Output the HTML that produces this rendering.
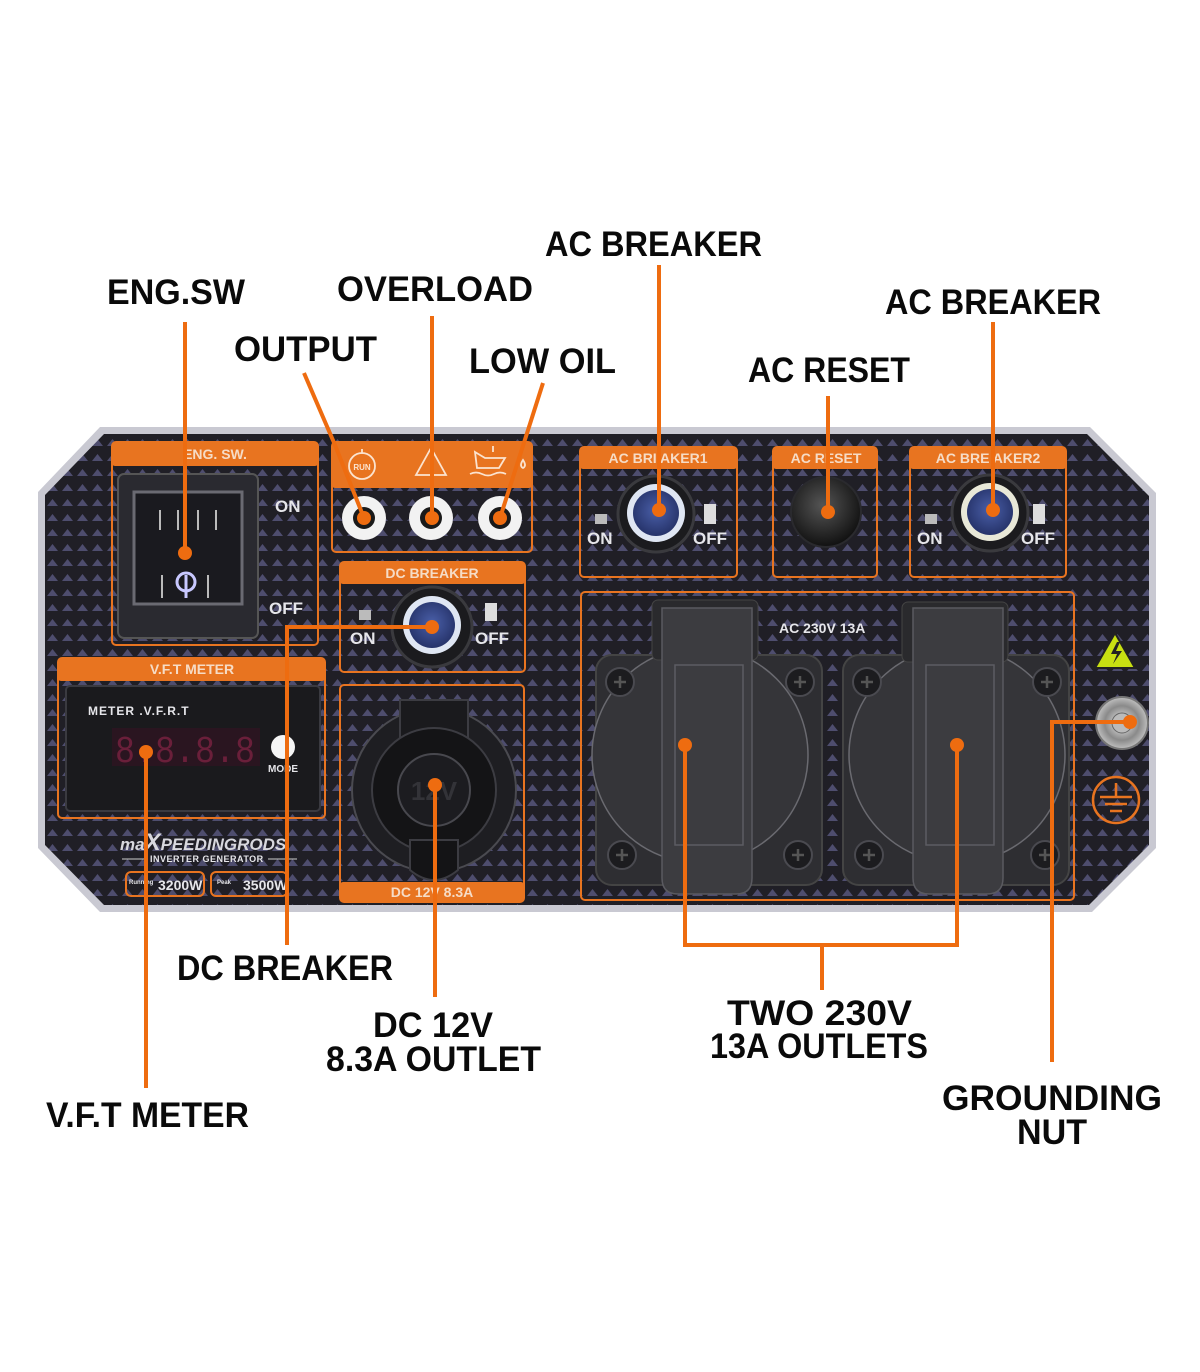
<!DOCTYPE html>
<html><head><meta charset="utf-8"><style>
html,body{margin:0;padding:0;background:#fff;}
svg{display:block;}
.lbl{font-family:"Liberation Sans",sans-serif;font-weight:bold;font-size:35px;fill:#0a0a0a;}
.hd{font-family:"Liberation Sans",sans-serif;font-weight:bold;font-size:14px;fill:#f6dcc6;text-anchor:middle;}
.wt{font-family:"Liberation Sans",sans-serif;font-weight:bold;fill:#e6e6ea;}
</style></head><body>
<svg width="1200" height="1372" viewBox="0 0 1200 1372" xmlns="http://www.w3.org/2000/svg">
<defs>
<pattern id="tri" width="15" height="15" patternUnits="userSpaceOnUse">
<rect width="15" height="15" fill="#201f26"/>
<polygon points="2,11 7.5,4 13,11" fill="#4e4d6e"/>
</pattern>
<radialGradient id="blue" cx="50%" cy="45%" r="55%"><stop offset="0" stop-color="#4a5fa8"/><stop offset="1" stop-color="#26336a"/></radialGradient>
<radialGradient id="blk" cx="45%" cy="40%" r="60%"><stop offset="0" stop-color="#555"/><stop offset="1" stop-color="#111"/></radialGradient>
<radialGradient id="nut" cx="50%" cy="50%" r="55%"><stop offset="0" stop-color="#f0f0f0"/><stop offset="0.6" stop-color="#8a8a8a"/><stop offset="1" stop-color="#cfcfcf"/></radialGradient>
<g id="screw"><circle r="14" fill="#1c1c1f" stroke="#4a4a50" stroke-width="2"/><path d="M-6,0 h12 M0,-6 v12" stroke="#555" stroke-width="2.5"/></g>
</defs>
<rect width="1200" height="1372" fill="#fff"/>
<polygon points="100,427 1090,427 1156,493 1156,848 1092,912 100,912 38,848 38,492" fill="#c9c9d2"/>
<polygon points="104,434 1087,434 1149,496 1149,845 1089,905 104,905 45,845 45,495" fill="url(#tri)"/>

<!-- ENG SW box -->
<rect x="112" y="442" width="206" height="203" rx="4" fill="none" stroke="#e87420" stroke-width="2"/>
<rect x="112" y="442" width="206" height="24" rx="3" fill="#e87420"/>
<text class="hd" x="215" y="459">ENG. SW.</text>
<rect x="118" y="474" width="140" height="164" rx="6" fill="#2a2a30" stroke="#555" stroke-width="2"/>
<rect x="134" y="492" width="108" height="112" fill="#1a1a1f" stroke="#6a6a72" stroke-width="3"/>
<g stroke="#bbb" stroke-width="2"><line x1="160" y1="510" x2="160" y2="530"/><line x1="178" y1="510" x2="178" y2="530"/><line x1="198" y1="510" x2="198" y2="530"/><line x1="216" y1="510" x2="216" y2="530"/><line x1="162" y1="575" x2="162" y2="598"/><line x1="208" y1="575" x2="208" y2="598"/></g>
<circle cx="186" cy="582" r="9" fill="none" stroke="#c8c8ff" stroke-width="3"/><line x1="186" y1="575" x2="186" y2="598" stroke="#c8c8ff" stroke-width="3"/>
<text class="wt" x="275" y="512" font-size="17">ON</text>
<text class="wt" x="269" y="614" font-size="17">OFF</text>

<!-- lights box -->
<rect x="332" y="442" width="200" height="110" rx="4" fill="none" stroke="#e87420" stroke-width="2"/>
<rect x="332" y="442" width="200" height="46" rx="3" fill="#e87420"/>
<g fill="none" stroke="#fbe3cf" stroke-width="1.8">
<circle cx="362" cy="466" r="13"/><line x1="362" y1="449" x2="362" y2="454"/>
<polygon points="431,448 416,475 446,475"/>
<path d="M475,452 l10,6 h20 l-6,10 h-22 z M493,452 v-6 M470,474 q6,-3 12,0 t12,0 t12,0 M523,460 q-4,6 0,8 q4,-2 0,-8z"/>
</g>
<text x="362" y="470" font-family="Liberation Sans,sans-serif" font-size="8" font-weight="bold" fill="#fbe3cf" text-anchor="middle">RUN</text>
<g><circle cx="364" cy="518" r="22" fill="#f2f2f2"/><circle cx="364" cy="518" r="11" fill="#1a1a1a"/>
<circle cx="431" cy="518" r="22" fill="#f2f2f2"/><circle cx="431" cy="518" r="11" fill="#1a1a1a"/>
<circle cx="500" cy="518" r="22" fill="#f2f2f2"/><circle cx="500" cy="518" r="11" fill="#1a1a1a"/></g>

<!-- DC breaker box -->
<rect x="340" y="562" width="185" height="110" rx="4" fill="none" stroke="#e87420" stroke-width="2"/>
<rect x="340" y="562" width="185" height="22" rx="3" fill="#e87420"/>
<text class="hd" x="432" y="578">DC BREAKER</text>
<circle cx="432" cy="627" r="40" fill="#1b1b1e" stroke="#3a3a3e" stroke-width="3"/>
<circle cx="432" cy="625" r="29" fill="#dfe6f3"/><circle cx="432" cy="625" r="23" fill="url(#blue)"/>
<rect x="359" y="610" width="12" height="10" fill="#bbb"/><rect x="485" y="603" width="12" height="18" fill="#ddd"/>
<text class="wt" x="350" y="644" font-size="17">ON</text>
<text class="wt" x="475" y="644" font-size="17">OFF</text>

<!-- VFT meter -->
<rect x="58" y="658" width="267" height="160" rx="4" fill="none" stroke="#e87420" stroke-width="2"/>
<rect x="58" y="658" width="267" height="23" rx="3" fill="#e87420"/>
<text class="hd" x="192" y="674">V.F.T METER</text>
<rect x="66" y="686" width="254" height="125" rx="4" fill="#1a1a1d" stroke="#3a3a40" stroke-width="2"/>
<text class="wt" x="88" y="715" font-size="12" letter-spacing="1">METER .V.F.R.T</text>
<rect x="112" y="728" width="148" height="38" fill="#2a1520"/>
<text x="115" y="762" font-family="Liberation Mono,monospace" font-size="38" fill="#6a1f3a" textLength="140" lengthAdjust="spacingAndGlyphs">8.8.8.8</text>
<circle cx="283" cy="747" r="12" fill="#f5f5f5"/>
<text class="wt" x="268" y="772" font-size="10">MODE</text>
<text x="120" y="850" font-family="Liberation Sans,sans-serif" font-style="italic" font-weight="bold" font-size="17" fill="#d8d8de">ma<tspan font-size="24">X</tspan>PEEDINGRODS</text>
<text class="wt" x="150" y="862" font-size="9" letter-spacing="0.5">INVERTER GENERATOR</text>
<line x1="122" y1="859" x2="148" y2="859" stroke="#ccc"/><line x1="268" y1="859" x2="297" y2="859" stroke="#ccc"/>
<rect x="126" y="872" width="78" height="24" rx="5" fill="none" stroke="#e87420" stroke-width="2"/>
<rect x="211" y="872" width="76" height="24" rx="5" fill="none" stroke="#e87420" stroke-width="2"/>
<text class="wt" x="158" y="890" font-size="14">3200W</text>
<text class="wt" x="243" y="890" font-size="14">3500W</text>
<text class="wt" x="129" y="884" font-size="6">Running</text><text class="wt" x="217" y="884" font-size="6">Peak</text>

<!-- DC outlet -->
<rect x="340" y="685" width="184" height="217" rx="4" fill="none" stroke="#e87420" stroke-width="2"/>
<rect x="340" y="882" width="184" height="20" rx="3" fill="#e87420"/>
<text class="hd" x="432" y="897">DC 12V 8.3A</text>
<circle cx="434" cy="790" r="82" fill="#1e1e22" stroke="#4a4a50" stroke-width="2"/>
<path d="M400,700 h68 v50 h-68z" fill="#1a1a1d" stroke="#3c3c42" stroke-width="2"/>
<circle cx="434" cy="790" r="62" fill="#141416" stroke="#3c3c42" stroke-width="2"/>
<path d="M410,840 h48 v30 q-24,20 -48,0z" fill="#141416" stroke="#3c3c42" stroke-width="2"/>
<circle cx="434" cy="790" r="36" fill="#1c1c20" stroke="#48484e" stroke-width="2"/>
<text x="434" y="800" font-family="Liberation Sans,sans-serif" font-weight="bold" font-size="26" fill="#333338" text-anchor="middle">12V</text>

<!-- AC breakers -->
<g>
<rect x="580" y="447" width="157" height="130" rx="4" fill="none" stroke="#e87420" stroke-width="2"/>
<rect x="580" y="447" width="157" height="22" rx="3" fill="#e87420"/>
<text class="hd" x="658" y="463">AC BRI AKER1</text>
<circle cx="656" cy="514" r="38" fill="#1b1b1e" stroke="#3a3a3e" stroke-width="3"/>
<circle cx="656" cy="513" r="29" fill="#dfe6f3"/><circle cx="656" cy="513" r="23" fill="url(#blue)"/>
<rect x="595" y="514" width="12" height="10" fill="#bbb"/><rect x="704" y="504" width="12" height="20" fill="#ddd"/>
<text class="wt" x="587" y="544" font-size="17">ON</text><text class="wt" x="693" y="544" font-size="17">OFF</text>

<rect x="773" y="447" width="104" height="130" rx="4" fill="none" stroke="#e87420" stroke-width="2"/>
<rect x="773" y="447" width="104" height="22" rx="3" fill="#e87420"/>
<text class="hd" x="826" y="463">AC RESET</text>
<circle cx="826" cy="512" r="35" fill="url(#blk)" stroke="#2a2a2e" stroke-width="2"/>

<rect x="910" y="447" width="156" height="130" rx="4" fill="none" stroke="#e87420" stroke-width="2"/>
<rect x="910" y="447" width="156" height="22" rx="3" fill="#e87420"/>
<text class="hd" x="988" y="463">AC BRE AKER2</text>
<circle cx="990" cy="513" r="38" fill="#1b1b1e" stroke="#3a3a3e" stroke-width="3"/>
<circle cx="990" cy="512" r="29" fill="#e8e8d8"/><circle cx="990" cy="512" r="23" fill="url(#blue)"/>
<rect x="925" y="514" width="12" height="10" fill="#bbb"/><rect x="1033" y="504" width="12" height="20" fill="#ddd"/>
<text class="wt" x="917" y="544" font-size="17">ON</text><text class="wt" x="1021" y="544" font-size="17">OFF</text>
</g>

<!-- AC outlets -->
<rect x="581" y="592" width="493" height="308" rx="4" fill="none" stroke="#e87420" stroke-width="2"/>
<text class="wt" x="779" y="633" font-size="14">AC 230V 13A</text>
<g>
<rect x="596" y="655" width="226" height="230" rx="16" fill="#2e2e32" stroke="#444" stroke-width="2"/>
<circle cx="700" cy="755" r="108" fill="#353539" stroke="#6a6a70" stroke-width="1.5"/>
<use href="#screw" x="620" y="682"/><use href="#screw" x="800" y="682"/>
<use href="#screw" x="622" y="855"/><use href="#screw" x="798" y="855"/>
<rect x="652" y="600" width="106" height="60" rx="6" fill="#2a2a2d" stroke="#444"/>
<path d="M662,608 h90 v270 q0,16 -16,16 h-58 q-16,0 -16,-16z" fill="#3c3c40" stroke="#5a5a60" stroke-width="1.5"/>
<rect x="675" y="665" width="68" height="180" fill="none" stroke="#5c5c62" stroke-width="1.5"/>
</g>
<g transform="translate(247,0)">
<rect x="596" y="655" width="226" height="230" rx="16" fill="#2e2e32" stroke="#444" stroke-width="2"/>
<circle cx="710" cy="755" r="108" fill="#353539" stroke="#6a6a70" stroke-width="1.5"/>
<use href="#screw" x="620" y="682"/><use href="#screw" x="800" y="682"/>
<use href="#screw" x="622" y="855"/><use href="#screw" x="798" y="855"/>
<rect x="655" y="602" width="106" height="60" rx="6" fill="#2a2a2d" stroke="#444"/>
<path d="M666,608 h90 v270 q0,16 -16,16 h-58 q-16,0 -16,-16z" fill="#3c3c40" stroke="#5a5a60" stroke-width="1.5"/>
<rect x="679" y="665" width="68" height="180" fill="none" stroke="#5c5c62" stroke-width="1.5"/>
</g>

<!-- right side icons -->
<polygon points="1115,633 1095,668 1135,668" fill="#c8e012" stroke="#222" stroke-width="2"/>
<path d="M1117,642 l-6,12 h6 l-4,10 l9,-13 h-6 l4,-9z" fill="#222"/>
<circle cx="1122" cy="723" r="26" fill="url(#nut)" stroke="#777" stroke-width="2"/>
<circle cx="1122" cy="723" r="10" fill="#bbb" stroke="#666"/>
<circle cx="1116" cy="800" r="23" fill="none" stroke="#e87420" stroke-width="2.5"/>
<g stroke="#e87420" stroke-width="2.5"><line x1="1116" y1="783" x2="1116" y2="797"/><line x1="1100" y1="797" x2="1132" y2="797"/><line x1="1105" y1="804" x2="1127" y2="804"/><line x1="1110" y1="811" x2="1122" y2="811"/></g>

<!-- leader lines -->
<g stroke="#ee6c10" stroke-width="4" fill="none">
<line x1="185" y1="322" x2="185" y2="553"/>
<polyline points="304,373 335,445 364,518"/>
<line x1="432" y1="316" x2="432" y2="518"/>
<polyline points="543,383 500,518"/>
<line x1="659" y1="265" x2="659" y2="512"/>
<line x1="828" y1="396" x2="828" y2="512"/>
<line x1="993" y1="322" x2="993" y2="510"/>
<polyline points="432,627 287,627 287,945"/>
<line x1="435" y1="785" x2="435" y2="997"/>
<line x1="146" y1="752" x2="146" y2="1088"/>
<polyline points="685,745 685,945 957,945 957,745"/>
<line x1="822" y1="945" x2="822" y2="990"/>
<polyline points="1130,722 1052,722 1052,1062"/>
</g>
<g fill="#ee6c10">
<circle cx="185" cy="553" r="7"/><circle cx="364" cy="518" r="7"/><circle cx="432" cy="518" r="7"/><circle cx="500" cy="518" r="7"/>
<circle cx="659" cy="510" r="7"/><circle cx="828" cy="512" r="7"/><circle cx="993" cy="510" r="7"/>
<circle cx="432" cy="627" r="7"/><circle cx="435" cy="785" r="7"/><circle cx="146" cy="752" r="7"/>
<circle cx="685" cy="745" r="7"/><circle cx="957" cy="745" r="7"/><circle cx="1130" cy="722" r="7"/>
</g>

<!-- labels -->
<text class="lbl" x="107" y="304" textLength="138" lengthAdjust="spacingAndGlyphs">ENG.SW</text>
<text class="lbl" x="337" y="301" textLength="196" lengthAdjust="spacingAndGlyphs">OVERLOAD</text>
<text class="lbl" x="234" y="361" textLength="143" lengthAdjust="spacingAndGlyphs">OUTPUT</text>
<text class="lbl" x="469" y="373" textLength="147" lengthAdjust="spacingAndGlyphs">LOW OIL</text>
<text class="lbl" x="545" y="256" textLength="217" lengthAdjust="spacingAndGlyphs">AC BREAKER</text>
<text class="lbl" x="748" y="382" textLength="162" lengthAdjust="spacingAndGlyphs">AC RESET</text>
<text class="lbl" x="885" y="314" textLength="216" lengthAdjust="spacingAndGlyphs">AC BREAKER</text>
<text class="lbl" x="177" y="980" textLength="216" lengthAdjust="spacingAndGlyphs">DC BREAKER</text>
<text class="lbl" x="373" y="1037" textLength="120" lengthAdjust="spacingAndGlyphs">DC 12V</text>
<text class="lbl" x="326" y="1071" textLength="215" lengthAdjust="spacingAndGlyphs">8.3A OUTLET</text>
<text class="lbl" x="727" y="1025" textLength="185" lengthAdjust="spacingAndGlyphs">TWO 230V</text>
<text class="lbl" x="710" y="1058" textLength="218" lengthAdjust="spacingAndGlyphs">13A OUTLETS</text>
<text class="lbl" x="46" y="1127" textLength="203" lengthAdjust="spacingAndGlyphs">V.F.T METER</text>
<text class="lbl" x="942" y="1110" textLength="220" lengthAdjust="spacingAndGlyphs">GROUNDING</text>
<text class="lbl" x="1017" y="1144" textLength="70" lengthAdjust="spacingAndGlyphs">NUT</text>
</svg>
</body></html>
